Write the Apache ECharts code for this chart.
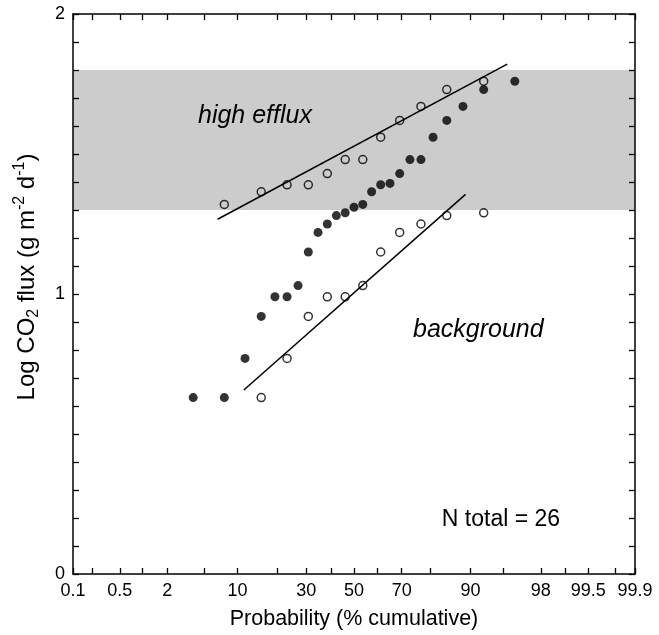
<!DOCTYPE html>
<html>
<head>
<meta charset="utf-8">
<script src="https://cdn.jsdelivr.net/npm/echarts@6/dist/echarts.min.js"></script>
<style>
  html, body { margin: 0; padding: 0; background: #fff; }
  #chart { width: 659px; height: 635px; }
</style>
</head>
<body>
<div id="chart"></div>
<script>
// ---- data ----
const xTickPct = [0.1, 0.2, 0.5, 1, 2, 5, 10, 20, 30, 40, 50, 60, 70, 80, 90, 95, 98, 99, 99.5, 99.8, 99.9];
const xLabelPct = [0.1, 0.5, 2, 10, 30, 50, 70, 90, 98, 99.5, 99.9];
const xLabelText = ['0.1', '0.5', '2', '10', '30', '50', '70', '90', '98', '99.5', '99.9'];
const yLabelValues = [0, 1, 2];

// open circles, high-efflux population
const openHighPct = [7.69, 15.38, 23.08, 30.77, 38.46, 46.15, 53.85, 61.54, 69.23, 76.92, 84.62, 92.31];
const openHighLog = [1.32, 1.365, 1.39, 1.39, 1.43, 1.48, 1.48, 1.56, 1.62, 1.67, 1.73, 1.76];
// open circles, background population
const openBgPct = [15.38, 23.08, 30.77, 38.46, 46.15, 53.85, 61.54, 69.23, 76.92, 84.62, 92.31];
const openBgLog = [0.63, 0.77, 0.92, 0.99, 0.99, 1.03, 1.15, 1.22, 1.25, 1.28, 1.29];
// filled circles, all data
const allPct = [3.85, 7.69, 11.54, 15.38, 19.23, 23.08, 26.92, 30.77, 34.62, 38.46, 42.31, 46.15, 50,
                53.85, 57.69, 61.54, 65.38, 69.23, 73.08, 76.92, 80.77, 84.62, 88.46, 92.31, 96.15];
const allLog = [0.63, 0.63, 0.77, 0.92, 0.99, 0.99, 1.03, 1.15, 1.22, 1.25, 1.28, 1.29, 1.31,
                1.32, 1.365, 1.39, 1.395, 1.43, 1.48, 1.48, 1.56, 1.62, 1.67, 1.73, 1.76];
// fitted lines (end points)
const fitHighPct = [6.68, 95.4];
const fitHighLog = [1.267, 1.821];
const fitBgPct = [11.28, 89.0];
const fitBgLog = [0.657, 1.356];
// shaded high-efflux band
const bandLog = [1.3, 1.8];

// ---- probability (normal quantile) scale ----
function probit(p) {
  const a = [-3.969683028665376e+01, 2.209460984245205e+02, -2.759285104469687e+02, 1.383577518672690e+02, -3.066479806614716e+01, 2.506628277459239e+00];
  const b = [-5.447609879822406e+01, 1.615858368580409e+02, -1.556989798598866e+02, 6.680131188771972e+01, -1.328068155288572e+01];
  const c = [-7.784894002430293e-03, -3.223964580411365e-01, -2.400758277161838e+00, -2.549671010229375e+00, 4.374664141464968e+00, 2.938163982698783e+00];
  const d = [7.784695709041462e-03, 3.224671290700398e-01, 2.445134137142996e+00, 3.754408661907416e+00];
  const pl = 0.02425, ph = 1 - pl;
  let q, r;
  if (p < pl) {
    q = Math.sqrt(-2 * Math.log(p));
    return (((((c[0]*q+c[1])*q+c[2])*q+c[3])*q+c[4])*q+c[5]) / ((((d[0]*q+d[1])*q+d[2])*q+d[3])*q+1);
  }
  if (p <= ph) {
    q = p - 0.5; r = q * q;
    return (((((a[0]*r+a[1])*r+a[2])*r+a[3])*r+a[4])*r+a[5])*q / (((((b[0]*r+b[1])*r+b[2])*r+b[3])*r+b[4])*r+1);
  }
  q = Math.sqrt(-2 * Math.log(1 - p));
  return -(((((c[0]*q+c[1])*q+c[2])*q+c[3])*q+c[4])*q+c[5]) / ((((d[0]*q+d[1])*q+d[2])*q+d[3])*q+1);
}
const zOf = pct => probit(pct / 100);
const pairs = (ps, vs) => ps.map((p, i) => [zOf(p), vs[i]]);

const xTickZ = xTickPct.map(zOf);
const xLabelZ = xLabelPct.map(zOf);
const xMin = zOf(xTickPct[0]);
const xMax = zOf(xTickPct[xTickPct.length - 1]);

const FONT = '"Liberation Sans", Arial, Helvetica, sans-serif';
const black = '#000';

function xFmt(v) {
  let best = 0, bd = Infinity;
  xLabelZ.forEach((zv, i) => { const dd = Math.abs(zv - v); if (dd < bd) { bd = dd; best = i; } });
  return xLabelText[best];
}

const baseX = {
  type: 'value', min: xMin, max: xMax, z: 10,
  axisLine: { show: true, onZero: false, lineStyle: { color: black, width: 1.5 } },
  axisTick: { show: true, inside: true, length: 6, customValues: xTickZ, lineStyle: { color: black, width: 1.3 } },
  splitLine: { show: false }
};
const baseY = {
  type: 'value', min: 0, max: 2, interval: 0.1, z: 10,
  axisLine: { show: true, onZero: false, lineStyle: { color: black, width: 1.5 } },
  axisTick: { show: true, inside: true, length: 6, lineStyle: { color: black, width: 1.3 } },
  splitLine: { show: false }
};

const option = {
  backgroundColor: '#fff',
  animation: false,
  grid: { left: 73, right: 24, top: 14, bottom: 61, containLabel: false },
  xAxis: [
    Object.assign({}, baseX, {
      position: 'bottom',
      axisLabel: { show: true, customValues: xLabelZ, formatter: xFmt, color: black, fontSize: 18, fontFamily: FONT, margin: 8 },
      name: 'Probability (% cumulative)', nameLocation: 'middle', nameGap: 34,
      nameTextStyle: { color: black, fontSize: 21.5, fontFamily: FONT }
    }),
    Object.assign({}, baseX, { position: 'top', axisLabel: { show: false } })
  ],
  yAxis: [
    Object.assign({}, baseY, {
      position: 'left',
      axisLabel: { show: true, customValues: yLabelValues, formatter: v => String(Math.round(v)), color: black, fontSize: 18, fontFamily: FONT, margin: 8 }
    }),
    Object.assign({}, baseY, { position: 'right', axisLabel: { show: false } })
  ],
  graphic: [
    {
      type: 'text', x: 27, y: 277, rotation: Math.PI / 2, z: 100,
      style: {
        text: 'Log CO{sub|2} flux (g m{sup|-2} d{sup|-1})',
        fill: black, font: '24px ' + FONT, align: 'center', verticalAlign: 'middle',
        rich: {
          sub: { fontSize: 16, fontFamily: FONT, fill: black, verticalAlign: 'bottom', lineHeight: 30 },
          sup: { fontSize: 16, fontFamily: FONT, fill: black, verticalAlign: 'top', lineHeight: 30 }
        }
      }
    },
    { type: 'text', x: 198, y: 116, z: 100, style: { text: 'high efflux', fill: black, font: 'italic 25px ' + FONT, align: 'left', verticalAlign: 'middle' } },
    { type: 'text', x: 413, y: 330, z: 100, style: { text: 'background', fill: black, font: 'italic 25px ' + FONT, align: 'left', verticalAlign: 'middle' } },
    { type: 'text', x: 501, y: 520, z: 100, style: { text: 'N total = 26', fill: black, font: '23px ' + FONT, align: 'center', verticalAlign: 'middle' } }
  ],
  series: [
    {
      name: 'band', type: 'line', data: [], z: 1, silent: true,
      markArea: { silent: true, itemStyle: { color: '#cccccc' }, data: [[{ yAxis: bandLog[0] }, { yAxis: bandLog[1] }]] }
    },
    {
      name: 'fit high', type: 'line', data: pairs(fitHighPct, fitHighLog), symbol: 'none', z: 2,
      lineStyle: { color: black, width: 1.5 }
    },
    {
      name: 'fit background', type: 'line', data: pairs(fitBgPct, fitBgLog), symbol: 'none', z: 2,
      lineStyle: { color: black, width: 1.5 }
    },
    {
      name: 'high efflux', type: 'scatter', data: pairs(openHighPct, openHighLog), symbol: 'circle', symbolSize: 8, z: 3,
      itemStyle: { color: 'rgba(0,0,0,0)', borderColor: black, borderWidth: 1.5 }
    },
    {
      name: 'background', type: 'scatter', data: pairs(openBgPct, openBgLog), symbol: 'circle', symbolSize: 8, z: 3,
      itemStyle: { color: 'rgba(0,0,0,0)', borderColor: black, borderWidth: 1.5 }
    },
    {
      name: 'all', type: 'scatter', data: pairs(allPct, allLog), symbol: 'circle', symbolSize: 9, z: 4,
      itemStyle: { color: black }
    }
  ]
};

const chart = echarts.init(document.getElementById('chart'), null, { renderer: 'canvas' });
chart.setOption(option);
</script>
</body>
</html>
